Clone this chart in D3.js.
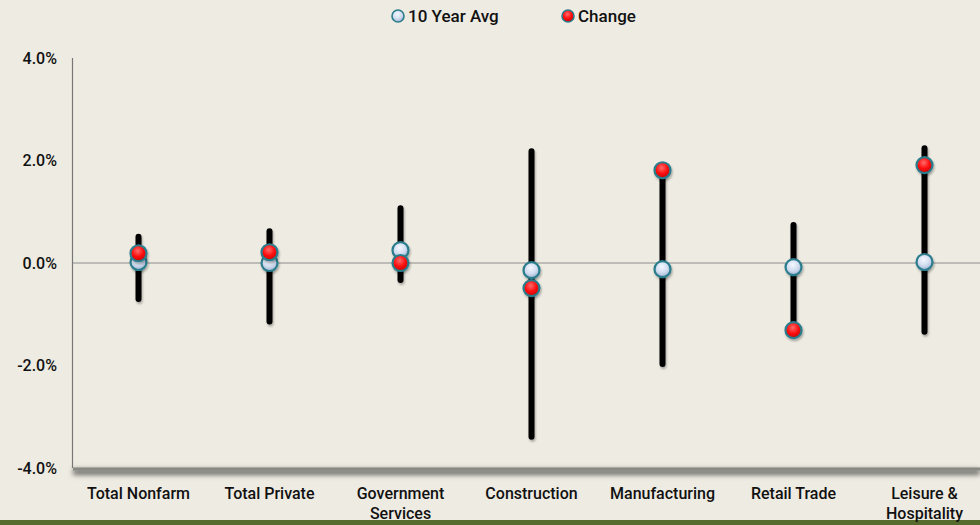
<!DOCTYPE html>
<html>
<head>
<meta charset="utf-8">
<script src="https://cdn.jsdelivr.net/npm/d3@7"></script>
<style>
  body { margin: 0; background: #eeebe2; }
  svg { display: block; font-family: Roboto, "Liberation Sans", Arial, sans-serif; font-weight: 500; }
</style>
</head>
<body>
<div id="chart"></div>
<script>
// job change ranges by sector, with 10 year avg and latest change

var width = 980,
    height = 525;

var categories = ["Total Nonfarm", "Total Private", "Government\nServices", "Construction",
                  "Manufacturing", "Retail Trade", "Leisure &\nHospitality"];
var highs   = [0.51, 0.62, 1.07, 2.18, 1.80, 0.74, 2.24];
var lows    = [-0.70, -1.14, -0.33, -3.39, -1.97, -1.30, -1.34];
var tenYearAvg = [0.02, 0.00, 0.25, -0.14, -0.12, -0.08, 0.02];
var change  = [0.19, 0.21, 0.00, -0.49, 1.81, -1.31, 1.91];
var yTicks  = [-4, -2, 0, 2, 4];

var margin = {left: 73, right: -10, top: 58, bottom: 57};

var svg = d3.select("#chart").append("svg")
    .attr("width", width)
    .attr("height", height);

var defs = svg.append("defs");

// paper-ish background
svg.append("rect")
    .attr("width", width).attr("height", height)
    .attr("fill", "#eeebe2");
svg.append("rect")
    .attr("x", 0).attr("y", 520).attr("width", width).attr("height", 5)
    .attr("fill", "#566b2e");

var blur = defs.append("filter").attr("id", "shadow")
    .attr("x", "-5%").attr("y", "-200%").attr("width", "110%").attr("height", "500%");
blur.append("feGaussianBlur").attr("stdDeviation", 2.5);

// userSpace region so it also works on zero-width vertical lines
var dropShadow = defs.append("filter").attr("id", "dot-shadow")
    .attr("filterUnits", "userSpaceOnUse")
    .attr("x", 0).attr("y", 0).attr("width", width).attr("height", height);
dropShadow.append("feDropShadow").attr("dx", 1).attr("dy", 2)
    .attr("stdDeviation", 1.2).attr("flood-color", "#000").attr("flood-opacity", 0.3);

function ballGradient(id, light, mid, dark) {
  var g = defs.append("radialGradient").attr("id", id)
      .attr("cx", "45%").attr("cy", "35%").attr("r", "65%");
  g.append("stop").attr("offset", "0%").attr("stop-color", light);
  g.append("stop").attr("offset", "55%").attr("stop-color", mid);
  g.append("stop").attr("offset", "100%").attr("stop-color", dark);
}
ballGradient("avg-fill", "#f4f8ff", "#d3def0", "#9fb4d2");
ballGradient("chg-fill", "#ff6b6b", "#ff1010", "#c00000");

var x = d3.scaleBand()
    .domain(categories)
    .range([margin.left, width - margin.right])
    .padding(0);

var y = d3.scaleLinear()
    .domain([-4, 4])
    .range([height - margin.bottom, margin.top]);

var plotBottom = y(-4);

// bottom axis shadow band
svg.append("rect")
    .attr("x", margin.left).attr("y", plotBottom + 1)
    .attr("width", width - margin.left).attr("height", 6)
    .attr("fill", "#6f6f6a")
    .attr("filter", "url(#shadow)");
svg.append("line")
    .attr("x1", margin.left).attr("x2", width)
    .attr("y1", plotBottom + 1).attr("y2", plotBottom + 1)
    .attr("stroke", "#8a8a85").attr("stroke-width", 3);

// y axis line
svg.append("line")
    .attr("x1", margin.left - 0.5).attr("x2", margin.left - 0.5)
    .attr("y1", y(4)).attr("y2", plotBottom)
    .attr("stroke", "#777").attr("stroke-width", 1.2);

// zero line
svg.append("line")
    .attr("x1", margin.left).attr("x2", width)
    .attr("y1", y(0)).attr("y2", y(0))
    .attr("stroke", "#8c8c8c").attr("stroke-width", 1);

// y tick labels (plain hyphen like the original)
svg.selectAll("text.ytick")
    .data(yTicks)
    .enter().append("text")
    .attr("class", "ytick")
    .attr("x", 57)
    .attr("y", function(d) { return y(d); })
    .attr("dy", "0.35em")
    .attr("text-anchor", "end")
    .attr("font-size", 16)
    .attr("fill", "#111")
    .text(function(d) { return d3.format(".1f")(d).replace("\u2212", "-") + "%"; });

// category labels
var catLabels = svg.selectAll("text.cat")
    .data(categories)
    .enter().append("text")
    .attr("class", "cat")
    .attr("text-anchor", "middle")
    .attr("font-size", 16)
    .attr("fill", "#111")
    .attr("transform", function(d) { return "translate(" + (x(d) + x.bandwidth() / 2) + ",499)"; });

catLabels.selectAll("tspan")
    .data(function(d) { return d.split("\n"); })
    .enter().append("tspan")
    .attr("x", 0)
    .attr("dy", function(d, i) { return i ? 20 : 0; })
    .text(function(d) { return d; });

// range bars
var rows = categories.map(function(c, i) {
  return {cat: c, high: highs[i], low: lows[i], avg: tenYearAvg[i], chg: change[i]};
});

function cx(d) { return x(d.cat) + x.bandwidth() / 2; }

svg.selectAll("line.range")
    .data(rows)
    .enter().append("line")
    .attr("class", "range")
    .attr("x1", cx).attr("x2", cx)
    .attr("y1", function(d) { return y(d.high); })
    .attr("y2", function(d) { return y(d.low); })
    .attr("stroke", "#000")
    .attr("stroke-width", 6)
    .attr("stroke-linecap", "round")
    .attr("filter", "url(#dot-shadow)");

// markers: avg drawn first, change on top
function drawBalls(key, fill) {
  svg.selectAll("circle." + key)
      .data(rows)
      .enter().append("circle")
      .attr("class", key)
      .attr("cx", cx)
      .attr("cy", function(d) { return y(d[key]); })
      .attr("r", 8)
      .attr("fill", fill)
      .attr("stroke", "#2b7d8c")
      .attr("stroke-width", 2.2)
      .attr("filter", "url(#dot-shadow)");
}
drawBalls("avg", "url(#avg-fill)");
drawBalls("chg", "url(#chg-fill)");

// legend
var legendItems = [
  {label: "10 Year Avg", fill: "url(#avg-fill)", x: 398},
  {label: "Change", fill: "url(#chg-fill)", x: 568}
];
var legend = svg.selectAll("g.legend")
    .data(legendItems)
    .enter().append("g")
    .attr("class", "legend")
    .attr("transform", function(d) { return "translate(" + d.x + ",16)"; });
legend.append("circle")
    .attr("r", 6)
    .attr("fill", function(d) { return d.fill; })
    .attr("stroke", "#2b7d8c")
    .attr("stroke-width", 1.6);
legend.append("text")
    .attr("x", 10)
    .attr("dy", "0.35em")
    .attr("font-size", 17)
    .attr("fill", "#111")
    .text(function(d) { return d.label; });
</script>
</body>
</html>
